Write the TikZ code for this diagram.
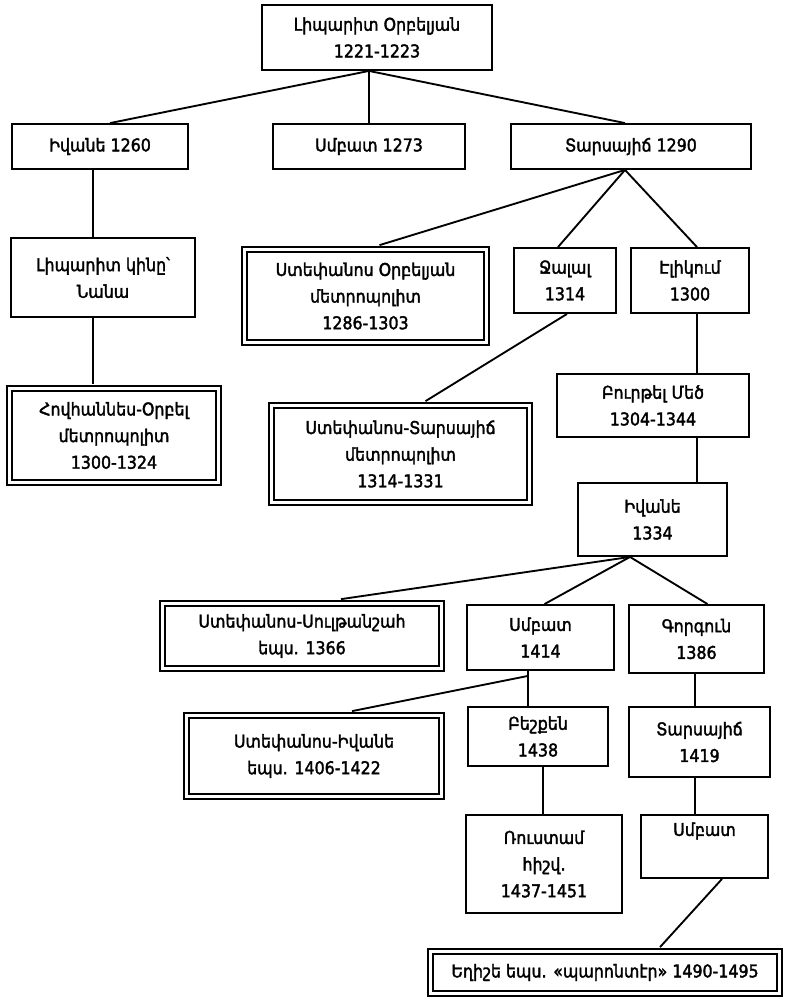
\documentclass[tikz,border=0pt]{standalone}
\usepackage{fontspec}
\newfontfamily\arm[FakeBold=2,FakeStretch=0.9]{DejaVu Sans}
\newcommand\bxfont{\arm\fontsize{13.2}{20}\selectfont}
\usetikzlibrary{calc}
\tikzset{
  box/.style={draw, line width=1.4pt, inner sep=0pt, align=center, font=\bxfont},
  dbox/.style={box, line width=1.3pt, double, double distance=2.4pt},
  sz/.style 2 args={minimum width=#1*0.75pt, minimum height=#2*0.75pt},
  link/.style={line width=1.4pt},
}
\begin{document}
\begin{tikzpicture}[x=0.75pt,y=-0.75pt]
\useasboundingbox[fill=white] (0,0) rectangle (788,1000);
% boxes
\node[box, sz={230}{65}] (T) at (377,37.5) {Լիպարիտ Օրբելյան\\1221-1223};
\node[box, sz={176}{45}] (A1) at (100,146.5) {Իվանե 1260};
\node[box, sz={192}{45}] (A2) at (369,146.5) {Սմբատ 1273};
\node[box, sz={240}{45}] (A3) at (631,146.5) {Տարսայիճ 1290};
\node[box, sz={184}{79}] (B1) at (103,277.5) {Լիպարիտ կինը՝\\Նանա};
\node[dbox, sz={242}{93}] (B2) at (365.5,296) {Ստեփանոս Օրբելյան\\մետրոպոլիտ\\1286-1303};
\node[box, sz={102}{65}] (B3) at (565,280.5) {Ջալալ\\1314};
\node[box, sz={118}{65}] (B4) at (690,280.5) {Էլիկում\\1300};
\node[dbox, sz={209}{94}] (C1) at (114,435.5) {Հովհաննես-Օրբել\\մետրոպոլիտ\\1300-1324};
\node[dbox, sz={258}{97}] (C2) at (400.5,454) {Ստեփանոս-Տարսայիճ\\մետրոպոլիտ\\1314-1331};
\node[box, sz={192}{63}] (C3) at (653,405.5) {Բուրթել Մեծ\\1304-1344};
\node[box, sz={149}{73}] (D1) at (652.5,519.5) {Իվանե\\1334};
\node[dbox, sz={279}{65}] (E1) at (302,636) {Ստեփանոս-Սուլթանշահ\\եպս. 1366};
\node[box, sz={147}{65}] (E2) at (540.5,637.5) {Սմբատ\\1414};
\node[box, sz={135}{68}] (E3) at (696.5,639) {Գորգուն\\1386};
\node[dbox, sz={255}{81}] (F1) at (314,756) {Ստեփանոս-Իվանե\\եպս. 1406-1422};
\node[box, sz={140}{59}] (F2) at (538,736.5) {Բեշքեն\\1438};
\node[box, sz={141}{70}] (F3) at (699.5,742) {Տարսայիճ\\1419};
\node[box, sz={156}{98}] (G1) at (544,864) {Ռուստամ\\հիշվ.\\1437-1451};
\node[box, sz={127}{63}] (G2) at (704.5,846.5) {Սմբատ\\\strut};
\node[dbox, sz={349}{42}] (H) at (605,972.5) {Եղիշե եպս. «պարոնտէր» 1490-1495};
% connectors
\coordinate (tj) at (T.south -| A2.north);
\draw[link] (tj) -- ($(A1.north)+(10,0)$);
\draw[link] (tj) -- (A2.north);
\draw[link] (tj) -- ($(A3.north)+(-6,0)$);
\draw[link] ($(A1.south)+(-7,0)$) -- ($(B1.north)+(-10,0)$);
\draw[link] ($(B1.south)+(-10,0)$) -- ($(C1.north)+(-21,-3.5)$);
\coordinate (aj) at ($(A3.south)+(-6,0)$);
\draw[link] (aj) -- ($(B2.north)+(14,-3.5)$);
\draw[link] (aj) -- ($(B3.north)+(-7,0)$);
\draw[link] (aj) -- ($(B4.north)+(7,0)$);
\draw[link] ($(B3.south)+(2,0)$) -- ($(C2.north)+(25,-3.5)$);
\draw[link] ($(B4.south)+(7,0)$) -- ($(C3.north)+(44,0)$);
\draw[link] ($(C3.south)+(44,0)$) -- ($(D1.north)+(44.5,0)$);
\coordinate (dj) at ($(D1.south)+(-22.5,0)$);
\draw[link] (dj) -- ($(E1.north)+(39,-3.5)$);
\draw[link] (dj) -- ($(E2.north)+(4,0)$);
\draw[link] (dj) -- ($(E3.north)+(11,0)$);
\draw[link] ($(E2.south)+(-12.5,0)$) -- ($(F2.north)+(-10,0)$);
\coordinate (ej) at ($(E2.south)+(-12.5,5)$);
\draw[link] (ej) -- ($(F1.north)+(38,-3.5)$);
\draw[link] ($(E3.south)+(-1.5,0)$) -- ($(F3.north)+(-4.5,0)$);
\draw[link] ($(F2.south)+(5,0)$) -- ($(G1.north)+(-1,0)$);
\draw[link] ($(F3.south)+(-4.5,0)$) -- ($(G2.north)+(-9.5,0)$);
\draw[link] ($(G2.south)+(17.5,0)$) -- ($(H.north)+(55,-3.5)$);
\end{tikzpicture}
\end{document}
